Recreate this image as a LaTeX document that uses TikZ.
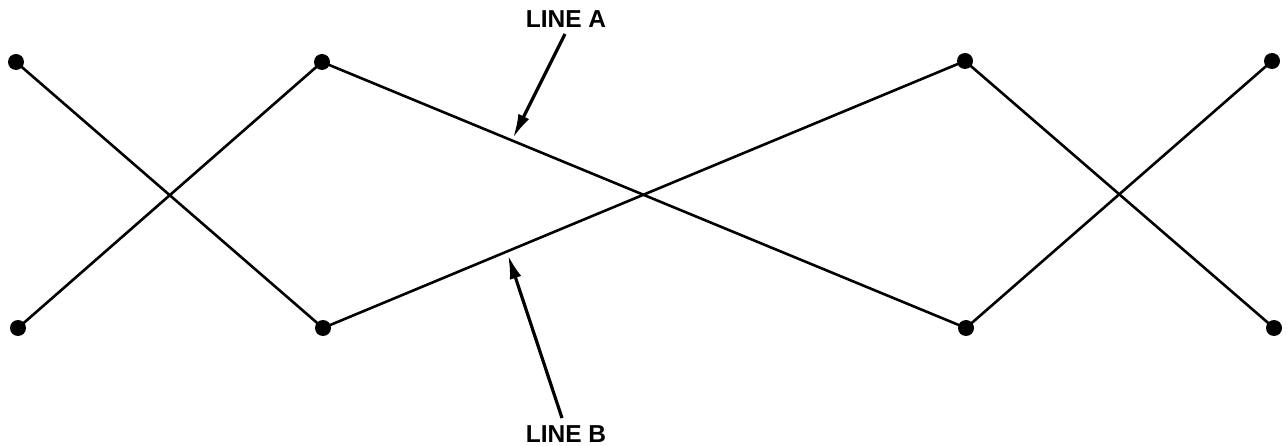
\documentclass[tikz,border=0pt]{standalone}
\usepackage{fontspec}
\setmainfont{Liberation Sans}
\usetikzlibrary{arrows.meta}
\begin{document}
\begin{tikzpicture}[x=1pt,y=-1pt,
  dot/.style={circle,fill=black,inner sep=0pt,minimum size=16pt},
  wire/.style={line width=2.6pt},
  lbl/.style={font=\bfseries\fontsize{24.5}{24.5}\selectfont,inner sep=0pt},
  pointer/.style={line width=3.2pt,-{Latex[length=24pt,width=12pt]}}]
\useasboundingbox (0,0) rectangle (1288,446);
\node[dot] (tl) at (16,62) {};
\node[dot] (bl) at (18,328) {};
\node[dot] (t2) at (322,62) {};
\node[dot] (b2) at (323,328) {};
\node[dot] (t3) at (965,61) {};
\node[dot] (b3) at (966,328) {};
\node[dot] (t4) at (1272,61) {};
\node[dot] (b4) at (1274,328) {};
\draw[wire] (tl.center) -- (b2.center);
\draw[wire] (bl.center) -- (t2.center);
\draw[wire] (t2.center) -- (b3.center);
\draw[wire] (b2.center) -- (t3.center);
\draw[wire] (t3.center) -- (b4.center);
\draw[wire] (b3.center) -- (t4.center);
\node[lbl] (la) at (566,19) {LINE A};
\node[lbl] (lb) at (566,434) {LINE B};
\coordinate (ta) at (513,138);
\coordinate (tb) at (508,255);
\draw[pointer] (565,34) -- (ta);
\draw[pointer] (562,418) -- (tb);
\end{tikzpicture}
\end{document}
